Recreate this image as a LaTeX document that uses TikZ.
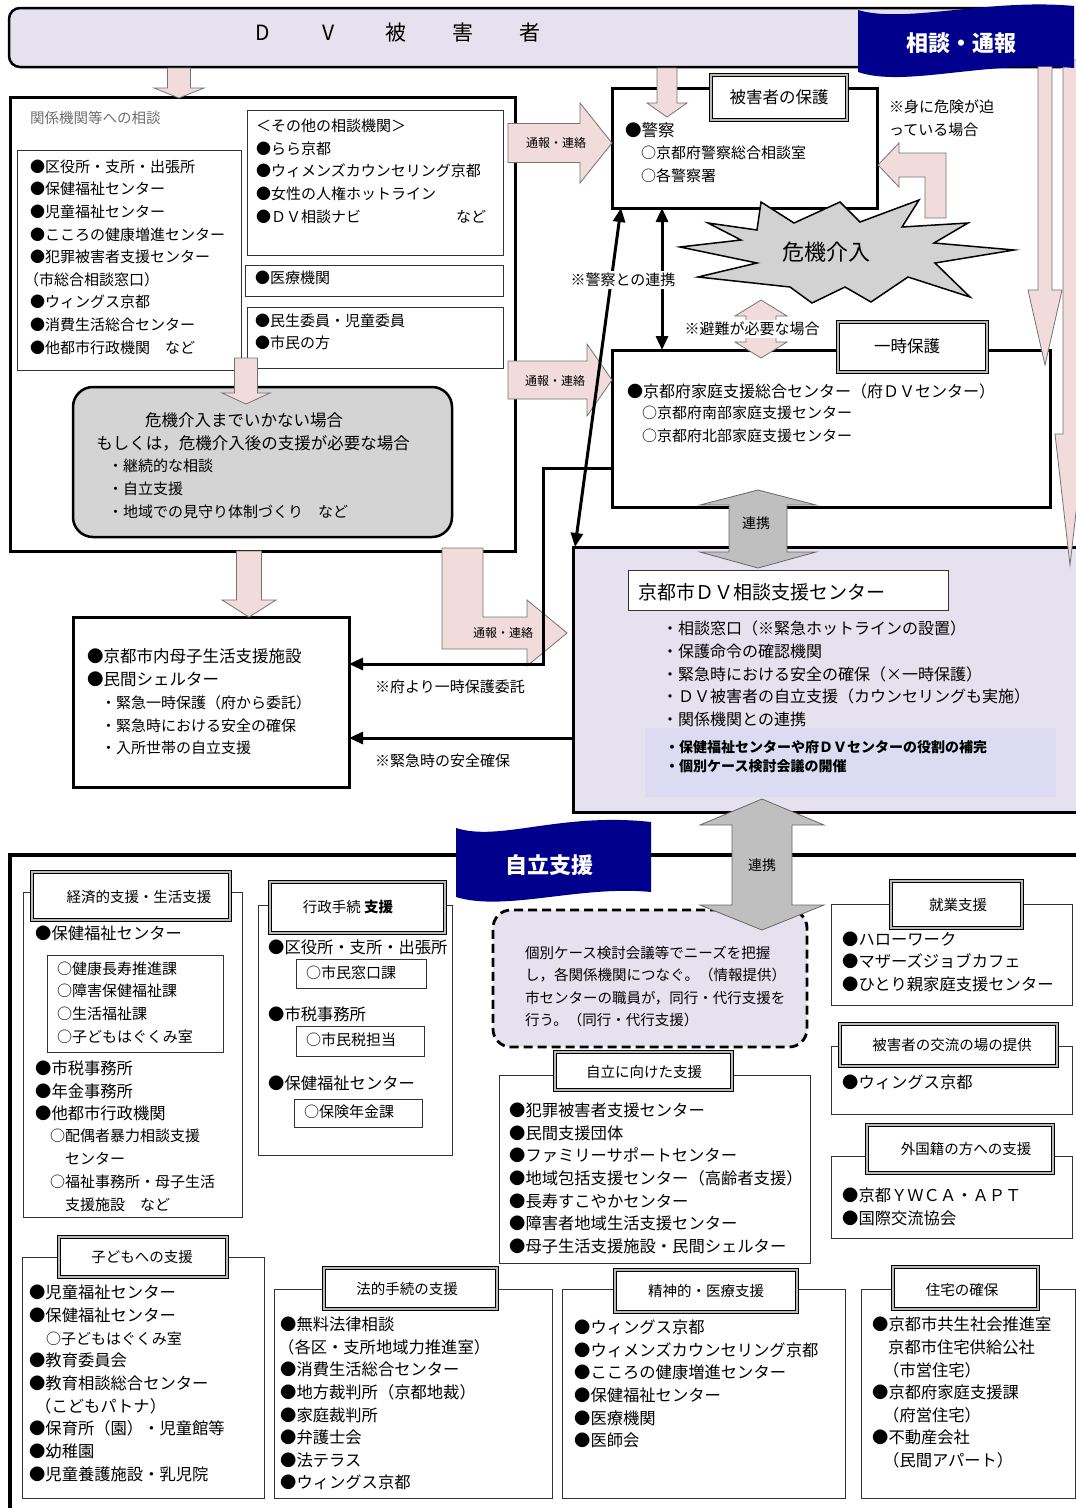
\documentclass[tikz,border=0pt]{standalone}
\usepackage{fontspec}
\setmainfont{Noto Sans CJK JP}
\usetikzlibrary{arrows.meta}
\definecolor{lav}{RGB}{230,225,238}
\definecolor{lavhi}{RGB}{221,219,242}
\definecolor{pinkf}{RGB}{242,220,219}
\definecolor{navyf}{RGB}{0,0,140}
\definecolor{txtgray}{RGB}{110,110,110}
\newcommand\sq{\rule[-0.12em]{0pt}{1em}}
\tikzset{
  thickbox/.style={draw=black,line width=3pt,fill=white},
  thinbox/.style={draw=black!80,line width=0.9pt,fill=white},
  titlebox/.style={draw=black,line width=1.3pt,double=gray!55,double distance=1.4pt,fill=white},
  pinkarrow/.style={fill=pinkf,draw=black!55,line width=0.8pt},
  grayarrow/.style={fill=gray!50,draw=black!60,line width=0.8pt},
  blkline/.style={draw=black,line width=3pt},
  blkhead/.style={-{Triangle[length=14pt,width=12pt]}},
  dblhead/.style={{Triangle[length=14pt,width=12pt]}-{Triangle[length=14pt,width=12pt]}},
  txt/.style={inner sep=0pt,anchor=west,font=\fontsize{#1}{#1}\selectfont,execute at begin node=\sq},
  ctxt/.style={inner sep=0pt,anchor=center,font=\fontsize{#1}{#1}\selectfont,execute at begin node=\sq},
  lst/.style 2 args={inner sep=0pt,anchor=north west,align=left,font=\fontsize{#1}{#2}\selectfont,execute at begin node=\sq},
  lstb/.style 2 args={inner sep=0pt,anchor=north west,align=left,font=\fontsize{#1}{#2}\selectfont\bfseries,execute at begin node=\sq},
  lbl/.style={inner sep=1.5pt,fill=white,anchor=center,font=\fontsize{15}{15}\selectfont,execute at begin node=\sq},
}
\newcommand\Bx[6][]{\node[#1,inner sep=0pt,outer sep=0pt,anchor=north west,
  minimum width={(#5)-(#3)},minimum height={(#6)-(#4)}] (#2) at (#3,#4) {};}
\newcommand\DnArrow[7][pinkarrow]{%
  \draw[#1] ({#2-#5},#3) -- ({#2+#5},#3) -- ({#2+#5},#4) -- ({#2+#6},#4) -- (#2,#7)
   -- ({#2-#6},#4) -- ({#2-#5},#4) -- cycle;}
\newcommand\RtArrow[7][pinkarrow]{%
  \draw[#1] (#3,{#2-#5}) -- (#4,{#2-#5}) -- (#4,{#2-#6}) -- (#7,#2) -- (#4,{#2+#6})
   -- (#4,{#2+#5}) -- (#3,{#2+#5}) -- cycle;}
\newcommand\VdArrow[8][pinkarrow]{%
  \draw[#1] (#2,#3) -- ({#2+#8},#4) -- ({#2+#7},#4) -- ({#2+#7},#5) -- ({#2+#8},#5) -- (#2,#6)
   -- ({#2-#8},#5) -- ({#2-#7},#5) -- ({#2-#7},#4) -- ({#2-#8},#4) -- cycle;}
\begin{document}
\begin{tikzpicture}[x=1pt,y=-1pt]
\useasboundingbox (0,0) rectangle (1076,1508);
\fill[white] (0,0) rectangle (1076,1508);

% ===== top bar
\Bx[draw=black,line width=2.5pt,fill=lav,rounded corners=11pt]{dvtop}{9}{8}{1072}{67}
\node[ctxt=21] (dvD) at (263,33) {D};
\node[ctxt=21] (dvV) at (329,33) {V};
\node[ctxt=21] (dvA) at (396,33) {被};
\node[ctxt=21] (dvB) at (463,33) {害};
\node[ctxt=21] (dvC) at (530,33) {者};

% ===== left consultation box
\Bx[thickbox]{leftbig}{10}{97}{515}{551}
\node[txt=14.5,text=txtgray] (kankei) at (30,118) {関係機関等への相談};
\Bx[thinbox]{llist}{17}{150}{241}{370}
\node[lst={15}{22.6}] (llistt) at (30,{167-7.5}) {●区役所・支所・出張所\\●保健福祉センター\\●児童福祉センター\\●こころの健康増進センター\\●犯罪被害者支援センター\\\kern-6pt（市総合相談窓口）\\●ウィングス京都\\●消費生活総合センター\\●他都市行政機関　など};
\Bx[thinbox]{rone}{247}{110}{503}{255}
\node[lst={15}{22.75}] (ronet) at (256,{126-7.5}) {＜その他の相談機関＞\\●らら京都\\●ウィメンズカウンセリング京都\\●女性の人権ホットライン\\●ＤＶ相談ナビ};
\node[txt=15] (nado1) at (456,217) {など};
\Bx[thinbox]{rtwo}{245}{265}{503}{296}
\node[txt=15] (rtwot) at (255,278) {●医療機関};
\Bx[thinbox]{rthree}{247}{307}{503}{368}
\node[lst={15}{21.7}] (rthreet) at (255,{321-7.5}) {●民生委員・児童委員\\●市民の方};

% ===== gray box
\Bx[draw=black,line width=2.5pt,fill=gray!34,rounded corners=20pt]{graybox}{73}{387}{452}{537}
\node[ctxt=16.5] (g1) at (244,420) {危機介入までいかない場合};
\node[ctxt=16.5] (g2) at (253,443) {もしくは，危機介入後の支援が必要な場合};
\node[lst={15}{23}] (g3) at (108,{466-7.5}) {・継続的な相談\\・自立支援\\・地域での見守り体制づくり　など};

% ===== mother-child box
\Bx[thickbox]{mother}{73}{617}{349}{787}
\node[lst={16.5}{23}] (m1) at (87,{657-8.25}) {●京都市内母子生活支援施設\\●民間シェルター};
\node[lst={15}{22.5}] (m2) at (101,{703-7.5}) {・緊急一時保護（府から委託）\\・緊急時における安全の確保\\・入所世帯の自立支援};

% ===== police
\Bx[thickbox]{police}{612}{88}{877}{208}
\node[txt=16.5] (p1) at (625,130) {●警察};
\node[lst={15}{23}] (p2) at (641,{153-7.5}) {○京都府警察総合相談室\\○各警察署};

% ===== family support center
\Bx[thickbox]{family}{612}{350}{1050}{507}
\node[txt=16] (f1) at (627,391) {●京都府家庭支援総合センター（府ＤＶセンター）};
\node[lst={15}{23.5}] (f2) at (642,{413-7.5}) {○京都府南部家庭支援センター\\○京都府北部家庭支援センター};

% ===== DV center
\Bx[draw=black,line width=3pt,fill=lav]{dvc}{573}{547}{1095}{812}
\Bx[draw=black!80,line width=0.9pt,fill=white]{dvctitle}{628}{570}{948}{610}
\node[txt=19] (dvct) at (638,592) {京都市ＤＶ相談支援センター};
\node[lst={16}{22.6}] (dvci) at (662,{629-8}) {・相談窓口（※緊急ホットラインの設置）\\・保護命令の確認機関\\・緊急時における安全の確保（×一時保護）\\・ＤＶ被害者の自立支援（カウンセリングも実施）\\・関係機関との連携};
\Bx[fill=lavhi]{dvchi}{645}{728}{1056}{797}
\node[lstb={14}{19}] (dvcb) at (665,{747-7}) {・保健福祉センターや府ＤＶセンターの役割の補完\\・個別ケース検討会議の開催};

% ===== pink arrows
\DnArrow{179}{68}{88}{11.5}{25}{98}
\DnArrow{667}{68}{103}{10}{20}{117}
\DnArrow{246}{358}{393}{11.5}{24}{404}
\DnArrow{249}{551}{600}{12.5}{27}{617}
\RtArrow{143}{508}{580}{19.5}{40}{612}
\RtArrow{380}{508}{587}{19}{36}{612}
\DnArrow{1045}{60}{290}{7}{17}{365}
\DnArrow{1070}{60}{434}{7}{15}{565}
\VdArrow{761}{300}{316}{342}{358}{15}{26}
\draw[pinkarrow] (442,548) -- (483,548) -- (483,617) -- (527,617) -- (527,600) -- (567,633) -- (527,666) -- (527,649) -- (442,649) -- cycle;
\draw[pinkarrow] (878,165) -- (899,143) -- (899,153) -- (946,153) -- (946,218) -- (925,218) -- (925,177) -- (899,177) -- (899,187) -- cycle;
\node[ctxt=12] (tr1) at (556,143) {通報・連絡};
\node[ctxt=12] (tr2) at (555,381) {通報・連絡};
\node[ctxt=12] (tr3) at (503,633) {通報・連絡};

% ===== gray link arrow 1
\VdArrow[grayarrow]{758}{490}{505}{552}{568}{29}{58}
\node[ctxt=14] (renkei1) at (756,523) {連携};

% ===== starburst
\draw[fill=gray!35,draw=black,line width=1.5pt] (680,247) -- (741,240) -- (708,223) -- (757,230) -- (761,202) -- (794,223) -- (840,202) -- (860,222) -- (919,200) -- (902,227) -- (968,223) -- (934,243) -- (1014,250) -- (935,263) -- (970,297) -- (908,277) -- (871,302) -- (845,287) -- (812,303) -- (790,287) -- (698,277) -- (757,263) -- cycle;
\node[ctxt=22] (kiki) at (826,252) {危機介入};

% ===== black connectors
\coordinate (vx) at (662,0);
\coordinate (dxa) at (621,0);
\coordinate (dxb) at (575,0);
\coordinate (c1) at (543,468);
\coordinate (c2) at (543,664);
\coordinate (c3) at (0,738);
\draw[blkline,dblhead] (vx |- police.south) -- (vx |- family.north);
\draw[blkline,dblhead] (dxa |- police.south) -- (dxb |- dvc.north);
\draw[blkline,blkhead] (family.west |- c1) -- (c1) -- (c2) -- (mother.east |- c2);
\draw[blkline,blkhead] (dvc.west |- c3) -- (mother.east |- c3);

% ===== labels
\node[lbl] (keisatsu) at (623,280) {※警察との連携};
\node[lbl] (hinan) at (752,329) {※避難が必要な場合};
\node[lst={15}{23}] (mini) at (889,{107-7.5}) {※身に危険が迫\\っている場合};
\node[txt=15] (fuyori) at (375,687) {※府より一時保護委託};
\node[txt=15] (kinkyu) at (375,761) {※緊急時の安全確保};

% ===== title boxes top
\Bx[titlebox]{higait}{711}{75}{847}{120}
\node[ctxt=16.5] (higaitt) at (779,97) {被害者の保護};
\Bx[titlebox]{ichijit}{838}{322}{987}{372}
\node[ctxt=16.5] (ichijitt) at (907,346) {一時保護};

% ===== flag 1
\fill[navyf] (858,10) .. controls (905,24) and (990,-2) .. (1074,6) -- (1074,68)
  .. controls (985,60) and (905,88) .. (858,72) -- cycle;
\node[ctxt=22,text=white,font=\fontsize{22}{22}\selectfont\bfseries] (soudan) at (961,43) {相談・通報};

% ===== bottom frame
\draw[draw=black,line width=3.5pt] (1095,855) -- (10,855) -- (10,1520);
\fill[navyf] (456,828) .. controls (500,842) and (560,812) .. (651,822) -- (651,892)
  .. controls (580,885) and (505,912) .. (456,897) -- cycle;
\node[ctxt=22,text=white,font=\fontsize{22}{22}\selectfont\bfseries] (jiritsuflag) at (549,865) {自立支援};

% ----- economic
\Bx[thinbox]{econ}{23}{892}{242}{1217}
\Bx[titlebox]{econt}{32}{872}{230}{920}
\node[ctxt=14.5] (econtt) at (139,897) {経済的支援・生活支援};
\node[txt=16.3] (econa) at (35,933) {●保健福祉センター};
\Bx[thinbox]{econin}{47}{955}{223}{1052}
\node[lst={15}{22.6}] (econint) at (57,{969-7.5}) {○健康長寿推進課\\○障害保健福祉課\\○生活福祉課\\○子どもはぐくみ室};
\node[lst={16.3}{22.2}] (econb) at (35,{1069-8.15}) {●市税事務所\\●年金事務所\\●他都市行政機関};
\node[lst={15}{23}] (econc) at (50,{1136-7.5}) {○配偶者暴力相談支援\\\kern15pt センター\\○福祉事務所・母子生活\\\kern15pt 支援施設　など};

% ----- administrative
\Bx[thinbox]{gyosei}{258}{905}{452}{1155}
\Bx[titlebox]{gyoseit}{270}{882}{445}{933}
\node[ctxt=14.5] (gyoseitt) at (348,907) {行政手続 \textbf{支援}};
\node[txt=16.3] (gya) at (268,947) {●区役所・支所・出張所};
\Bx[thinbox]{gyb}{296}{959}{426}{988}
\node[txt=15] (gyc) at (306,973) {○市民窓口課};
\node[txt=16.3] (gyd) at (268,1014) {●市税事務所};
\Bx[thinbox]{gye}{296}{1026}{424}{1056}
\node[txt=15] (gyf) at (306,1040) {○市民税担当};
\node[txt=16.3] (gyg) at (268,1083) {●保健福祉センター};
\Bx[thinbox]{gyh}{294}{1099}{422}{1127}
\node[txt=15] (gyi) at (304,1112) {○保険年金課};

% ----- dashed box
\Bx[draw=black,line width=2.8pt,dash pattern=on 9pt off 5pt,fill=lav,rounded corners=18pt]{dashbox}{493}{910}{807}{1047}
\node[lst={14.5}{22.4}] (dasht) at (525,{953-7.25}) {個別ケース検討会議等でニーズを把握\\し，各関係機関につなぐ。（情報提供）\\市センターの職員が，同行・代行支援を\\行う。（同行・代行支援）};

% ----- toward independence
\Bx[thinbox]{jiritsu}{499}{1075}{810}{1263}
\Bx[titlebox]{jiritsut}{555}{1052}{732}{1090}
\node[ctxt=14.5] (jiritsutt) at (644,1072) {自立に向けた支援};
\node[lst={16.3}{22.6}] (jiritsul) at (509,{1111-8.15}) {●犯罪被害者支援センター\\●民間支援団体\\●ファミリーサポートセンター\\●地域包括支援センター（高齢者支援）\\●長寿すこやかセンター\\●障害者地域生活支援センター\\●母子生活支援施設・民間シェルター};

% ----- employment
\Bx[thinbox]{shugyo}{831}{904}{1072}{1005}
\Bx[titlebox]{shugyot}{891}{881}{1022}{928}
\node[ctxt=14.5] (shugyott) at (958,905) {就業支援};
\node[lst={16.3}{22.4}] (shugyol) at (842,{940-8.15}) {●ハローワーク\\●マザーズジョブカフェ\\●ひとり親家庭支援センター};

% ----- exchange
\Bx[thinbox]{koryu}{831}{1046}{1072}{1114}
\Bx[titlebox]{koryut}{840}{1024}{1057}{1066}
\node[ctxt=14.5] (koryutt) at (952,1045) {被害者の交流の場の提供};
\node[txt=16.3] (koryul) at (842,1082) {●ウィングス京都};

% ----- foreign nationals
\Bx[thinbox]{gaikoku}{831}{1156}{1072}{1238}
\Bx[titlebox]{gaikokut}{867}{1125}{1053}{1173}
\node[ctxt=14.5] (gaikokutt) at (966,1149) {外国籍の方への支援};
\node[lst={16.3}{23}] (gaikokul) at (842,{1196-8.15}) {●京都ＹＷＣＡ・ＡＰＴ\\●国際交流協会};

% ----- children
\Bx[thinbox]{kodomo}{22}{1257}{264}{1498}
\Bx[titlebox]{kodomot}{59}{1237}{227}{1277}
\node[ctxt=14.5] (kodomott) at (142,1257) {子どもへの支援};
\node[lst={16.3}{22.7}] (kodomol) at (29,{1293-8.15}) {●児童福祉センター\\●保健福祉センター\\\kern17pt{\fontsize{15}{22.7}\selectfont ○子どもはぐくみ室}\\●教育委員会\\●教育相談総合センター\\\kern6pt（こどもパトナ）\\●保育所（園）・児童館等\\●幼稚園\\●児童養護施設・乳児院};

% ----- legal
\Bx[thinbox]{hoteki}{274}{1289}{552}{1498}
\Bx[titlebox]{hotekit}{324}{1268}{497}{1309}
\node[ctxt=14.5] (hotekitt) at (407,1289) {法的手続の支援};
\node[lst={16.3}{22.6}] (hotekil) at (280,{1325-8.15}) {●無料法律相談\\\kern-2pt（各区・支所地域力推進室）\\●消費生活総合センター\\●地方裁判所（京都地裁）\\●家庭裁判所\\●弁護士会\\●法テラス\\●ウィングス京都};

% ----- mental / medical
\Bx[thinbox]{seishin}{562}{1289}{845}{1498}
\Bx[titlebox]{seishint}{615}{1270}{797}{1312}
\node[ctxt=14.5] (seishintt) at (706,1291) {精神的・医療支援};
\node[lst={16.3}{22.6}] (seishinl) at (574,{1328-8.15}) {●ウィングス京都\\●ウィメンズカウンセリング京都\\●こころの健康増進センター\\●保健福祉センター\\●医療機関\\●医師会};

% ----- housing
\Bx[thinbox]{jutaku}{861}{1289}{1075}{1498}
\Bx[titlebox]{jutakut}{893}{1267}{1038}{1309}
\node[ctxt=14.5] (jutakutt) at (962,1290) {住宅の確保};
\node[lst={16.3}{22.6}] (jutakul) at (872,{1325-8.15}) {●京都市共生社会推進室\\\kern16pt 京都市住宅供給公社\\\kern11pt（市営住宅）\\●京都府家庭支援課\\\kern11pt（府営住宅）\\●不動産会社\\\kern11pt（民間アパート）};

% ===== gray link arrow 2
\VdArrow[grayarrow]{762}{799}{825}{905}{930}{30}{62}
\node[ctxt=14] (renkei2) at (762,865) {連携};

\end{tikzpicture}
\end{document}
